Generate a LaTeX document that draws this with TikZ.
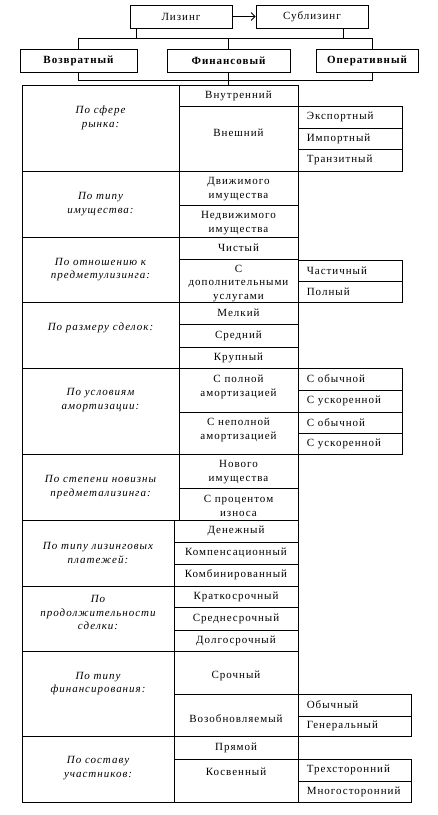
\documentclass[tikz,border=0pt]{standalone}
\usepackage{fontspec}
\setmainfont{Liberation Serif}[LetterSpace=9]
\usetikzlibrary{arrows.meta}
\tikzset{
  cellbox/.style={draw, line width=0.8pt, rectangle, inner sep=0pt},
  celltxt/.style={inner sep=0pt, align=center, font=\fontsize{11}{13.5}\selectfont},
  celltxti/.style={celltxt, font=\fontsize{11}{13.5}\selectfont\itshape},
  topbox/.style={draw, line width=0.8pt, rectangle, inner sep=0pt, font=\fontsize{11}{13.5}\selectfont},
  conn/.style={line width=0.8pt},
}
\newcommand\boxc[7]{%
  \node[cellbox, minimum width={(#4-#2)*1pt}, minimum height={(#5-#3)*1pt}] (#1) at ({(#2+#4)/2},{(#3+#5)/2}) {};
  \node[celltxt] (#1-t) at ({(#2+#4)/2},{(#3+#5)/2+#6}) {#7};
}
\newcommand\boxi[7]{%
  \node[cellbox, minimum width={(#4-#2)*1pt}, minimum height={(#5-#3)*1pt}] (#1) at ({(#2+#4)/2},{(#3+#5)/2}) {};
  \node[celltxti] (#1-t) at ({(#2+#4)/2},{(#3+#5)/2+#6}) {#7};
}
\newcommand\boxl[6]{%
  \node[cellbox, minimum width={(#4-#2)*1pt}, minimum height={(#5-#3)*1pt}] (#1) at ({(#2+#4)/2},{(#3+#5)/2}) {};
  \node[celltxt, anchor=west] (#1-t) at ([xshift=9pt]#1.west) {#6};
}
\begin{document}
\begin{tikzpicture}[x=1pt,y=-1pt]
\useasboundingbox (0,0) rectangle (437,815);
% top level
\node[topbox, minimum width=102pt, minimum height=23pt] (lz) at (181,16.5) {Лизинг};
\node[topbox, minimum width=112pt, minimum height=23pt] (slz) at (312,16.5) {Сублизинг};
\draw[conn, -{Straight Barb[length=4pt,width=8pt]}] (lz.east) -- (slz.west);
\node[topbox, minimum width=117pt, minimum height=23pt, font=\fontsize{11}{13.5}\selectfont\bfseries] (voz) at (78.5,60.5) {Возвратный};
\node[topbox, minimum width=123pt, minimum height=23pt, font=\fontsize{11}{13.5}\selectfont\bfseries] (fin) at (228.5,60.5) {Финансовый};
\node[topbox, minimum width=102pt, minimum height=23pt, font=\fontsize{11}{13.5}\selectfont\bfseries] (op) at (367,60.5) {Оперативный};
\coordinate (bus1L) at (78.5,38);
\coordinate (bus1R) at (372,38);
\coordinate (bus2L) at (78.5,80);
\coordinate (bus2R) at (372,80);
\draw[conn] ([xshift=7pt]lz.south west) -- ([xshift=7pt]lz.south west |- bus1L);
\draw[conn] ([xshift=-25pt]slz.south east) -- ([xshift=-25pt]slz.south east |- bus1R);
\draw[conn] (bus1L) -- (bus1R);
\draw[conn] (bus1L) -- (bus1L |- voz.north);
\draw[conn] (fin.north |- bus1L) -- (fin.north);
\draw[conn] (bus1R) -- (bus1R |- op.north);
\draw[conn] (bus2L |- voz.south) -- (bus2L) -- (bus2R) -- (bus2R |- op.south);
% row 1
\boxi{g1}{22}{85}{179}{171}{-10}{По сфере\\рынка:}
\boxc{c1a}{179}{85}{298}{106}{0}{Внутренний}
\boxc{c1b}{179}{106}{298}{171}{-6}{Внешний}
\boxl{d1a}{298}{106}{402}{128}{Экспортный}
\boxl{d1b}{298}{128}{402}{149}{Импортный}
\boxl{d1c}{298}{149}{402}{171}{Транзитный}
\draw[conn] (fin.south) -- (fin.south |- c1a.north);
% row 2
\boxi{g2}{22}{171}{179}{237}{0}{По типу\\имущества:}
\boxc{c2a}{179}{171}{298}{205}{1}{Движимого\\имущества}
\boxc{c2b}{179}{205}{298}{237}{2}{Недвижимого\\имущества}
% row 3
\boxi{g3}{22}{237}{179}{302}{0}{По отношению к\\предметулизинга:}
\boxc{c3a}{179}{237}{298}{259}{0}{Чистый}
\boxc{c3b}{179}{259}{298}{302}{3}{С\\дополнительными\\услугами}
\boxl{d3a}{298}{260}{402}{281}{Частичный}
\boxl{d3b}{298}{281}{402}{302}{Полный}
% row 4
\boxi{g4}{22}{302}{179}{368}{-7}{По размеру сделок:}
\boxc{c4a}{179}{302}{298}{324}{0}{Мелкий}
\boxc{c4b}{179}{324}{298}{347}{0}{Средний}
\boxc{c4c}{179}{347}{298}{368}{0}{Крупный}
% row 5
\boxi{g5}{22}{368}{179}{454}{-11}{По условиям\\амортизации:}
\boxc{c5a}{179}{368}{298}{412}{-3}{С полной\\амортизацией}
\boxc{c5b}{179}{412}{298}{454}{-3}{С неполной\\амортизацией}
\boxl{d5a}{298}{368}{402}{390}{С обычной}
\boxl{d5b}{298}{390}{402}{412}{С ускоренной}
\boxl{d5c}{298}{412}{402}{433}{С обычной}
\boxl{d5d}{298}{433}{402}{454}{С ускоренной}
% row 6
\boxi{g6}{22}{454}{179}{520}{0}{По степени новизны\\предметализинга:}
\boxc{c6a}{179}{454}{298}{488}{1}{Нового\\имущества}
\boxc{c6b}{179}{488}{298}{520}{2}{С процентом\\износа}
% row 7
\boxi{g7}{22}{520}{174}{586}{0}{По типу лизинговых\\платежей:}
\boxc{c7a}{174}{520}{298}{542}{0}{Денежный}
\boxc{c7b}{174}{542}{298}{564}{0}{Компенсационный}
\boxc{c7c}{174}{564}{298}{586}{0}{Комбинированный}
% row 8
\boxi{g8}{22}{586}{174}{651}{-6}{По\\продолжительности\\сделки:}
\boxc{c8a}{174}{586}{298}{607}{0}{Краткосрочный}
\boxc{c8b}{174}{607}{298}{630}{0}{Среднесрочный}
\boxc{c8c}{174}{630}{298}{651}{0}{Долгосрочный}
% row 9
\boxi{g9}{22}{651}{174}{736}{-10}{По типу\\финансирования:}
\boxc{c9a}{174}{651}{298}{694}{3}{Срочный}
\boxc{c9b}{174}{694}{298}{736}{4}{Возобновляемый}
\boxl{d9a}{298}{694}{411}{716}{Обычный}
\boxl{d9b}{298}{716}{411}{736}{Генеральный}
% row 10
\boxi{g10}{22}{736}{174}{802}{-1}{По составу\\участников:}
\boxc{c10a}{174}{736}{298}{759}{0}{Прямой}
\boxc{c10b}{174}{759}{298}{802}{-9}{Косвенный}
\boxl{d10a}{298}{759}{411}{781}{Трехсторонний}
\boxl{d10b}{298}{781}{411}{802}{Многосторонний}
\end{tikzpicture}
\end{document}
